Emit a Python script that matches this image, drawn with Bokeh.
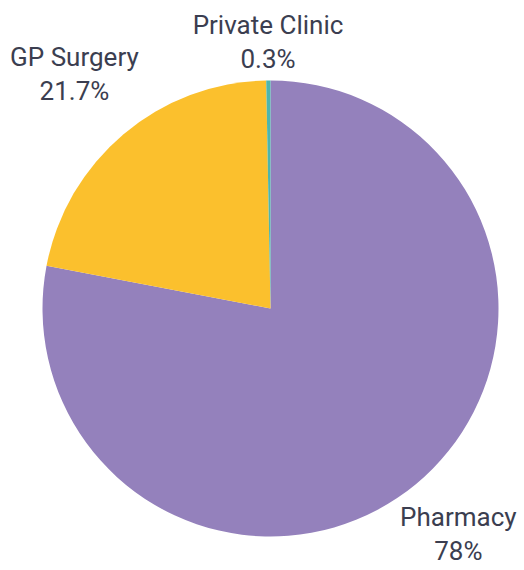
import math
from bokeh.plotting import figure
from bokeh.models import Range1d, ColumnDataSource
from bokeh.core.properties import value
from bokeh.embed import file_html
from bokeh.resources import INLINE

categories = ["Pharmacy", "GP Surgery", "Private Clinic"]
values = [78.0, 21.7, 0.3]
value_labels = ["78%", "21.7%", "0.3%"]
colors = ["#9481BC", "#FBC02D", "#4DB6AC"]

W, H = 524, 570
p = figure(width=W, height=H, output_backend="svg", toolbar_location=None,
           x_range=Range1d(0, W), y_range=Range1d(0, H),
           min_border=0, outline_line_color=None)
p.axis.visible = False
p.grid.visible = False
p.background_fill_color = "white"

cx, cy, R = 270, 262, 228
total = sum(values)
starts, ends = [], []
acc = 0.0
for v in values:
    a0 = math.pi / 2 - 2 * math.pi * acc / total
    acc += v
    a1 = math.pi / 2 - 2 * math.pi * acc / total
    starts.append(a0)
    ends.append(a1)

src = ColumnDataSource(dict(x=[cx] * 3, y=[cy] * 3, s=starts, e=ends, c=colors))
p.wedge(x="x", y="y", radius=R, start_angle="s", end_angle="e", direction="clock",
        fill_color="c", line_color=None, source=src)

fs = 26
lh = 34
cap = 18.5
hh = (cap + lh) / 2
shift = 11
l1x, l1y, l2x, l2y, t1, t2 = [], [], [], [], [], []
for cat, vl, a0, a1 in zip(categories, value_labels, starts, ends):
    m = (a0 + a1) / 2
    c, s = math.cos(m), math.sin(m)
    w = 0.55 * fs * max(len(cat), len(vl))
    r = R + 10 + abs(c) * w / 2 + abs(s) * hh
    bx, by = cx + r * c, cy + r * s
    l1x.append(bx); l1y.append(by + hh - cap + shift); t1.append(cat)
    l2x.append(bx); l2y.append(by - hh + shift); t2.append(vl)

for xs, ys, ts in ((l1x, l1y, t1), (l2x, l2y, t2)):
    p.text(x=xs, y=ys, text=ts, text_align="center", text_baseline="alphabetic",
           text_font=value("Roboto"), text_font_size=f"{fs}px", text_color="#3b3e50")

open("out.html", "w").write(file_html(p, INLINE))
